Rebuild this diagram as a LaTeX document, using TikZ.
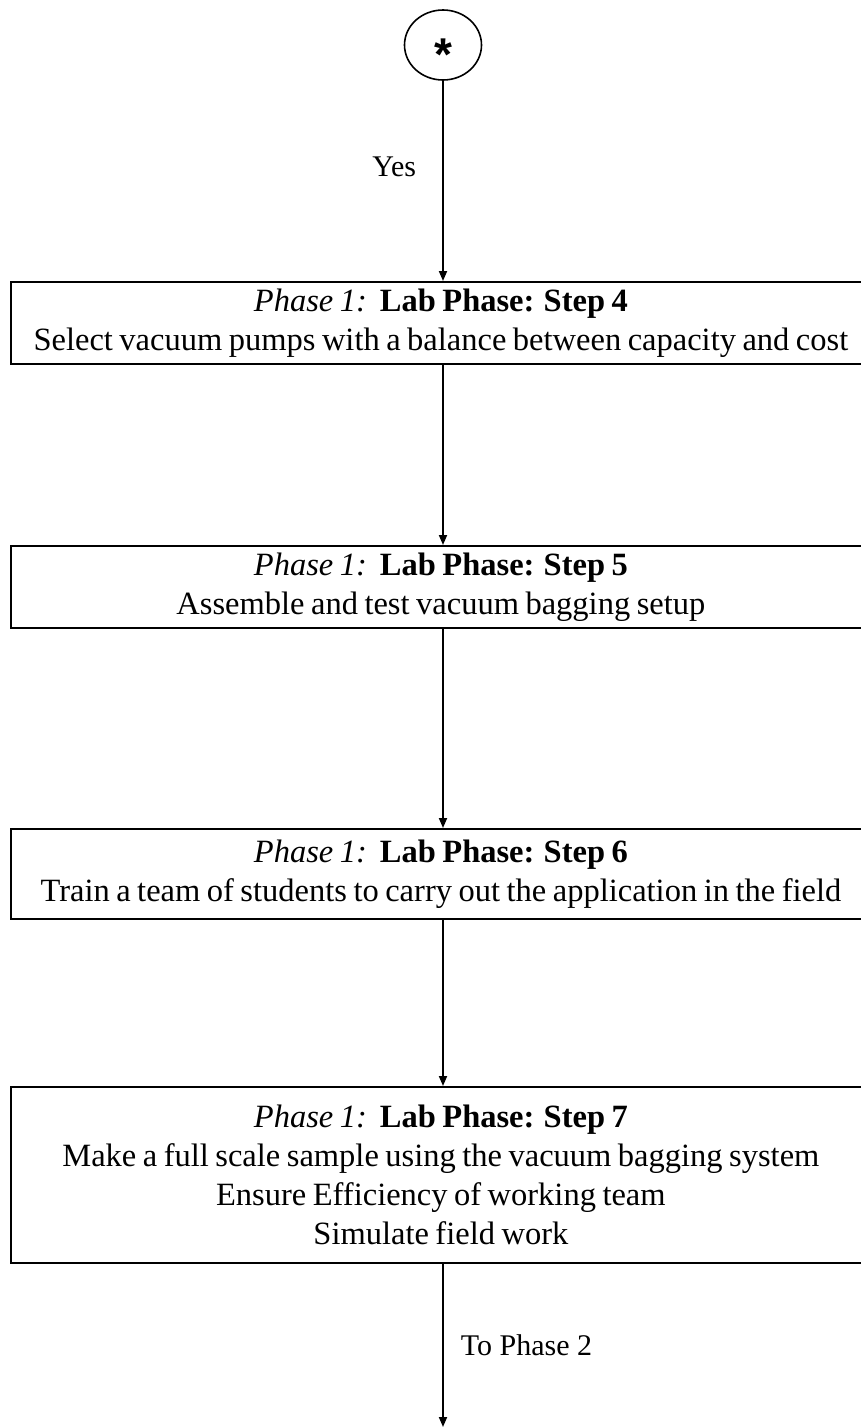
\documentclass[tikz,border=0pt]{standalone}
\usepackage{fontspec}
\setmainfont{Liberation Serif}
\newfontfamily\symfont{Liberation Sans}
\usetikzlibrary{arrows.meta,shapes.geometric}
\newcommand\boxfont{\fontsize{32.5}{39}\selectfont
  \spaceskip=0.2em plus 0.05em minus 0.05em\relax}
\begin{document}
\begin{tikzpicture}[x=1pt,y=-1pt,
  stepbox/.style={draw, line width=1.8pt, rectangle, anchor=north west,
    minimum width=860pt, align=center, inner sep=0pt, font=\boxfont},
  flow/.style={line width=1.8pt, -{Triangle[length=10pt,width=8pt]}},
  lbl/.style={font=\fontsize{30}{39}\selectfont, inner sep=0pt}]
\useasboundingbox (0,0) rectangle (861,1428);

% start connector
\node[draw, ellipse, line width=1.6pt, minimum width=77pt, minimum height=70pt,
  inner sep=0pt] (start) at (443,45) {};
\node[inner sep=0pt, font=\symfont\bfseries\fontsize{46}{46}\selectfont]
  (star) at ([yshift=-10pt]start.center) {*};

% phase 1 steps
\node[stepbox, minimum height=82pt] (s4) at (10,281)
  {\textit{Phase 1:}\ \ \textbf{Lab Phase: Step 4}\\
   Select vacuum pumps with a balance between capacity and cost};
\node[stepbox, minimum height=82pt] (s5) at (10,545)
  {\textit{Phase 1:}\ \ \textbf{Lab Phase: Step 5}\\
   Assemble and test vacuum bagging setup};
\node[stepbox, minimum height=90pt] (s6) at (10,828)
  {\textit{Phase 1:}\ \ \textbf{Lab Phase: Step 6}\\
   Train a team of students to carry out the application in the field};
\node[stepbox, minimum height=176pt] (s7) at (10,1086)
  {\textit{Phase 1:}\ \ \textbf{Lab Phase: Step 7}\\
   Make a full scale sample using the vacuum bagging system\\
   Ensure Efficiency of working team\\
   Simulate field work};

\coordinate (phase2) at (443,1427);

% connectors
\draw[flow] (start.south) -- (s4.north -| start.south)
  node[lbl, pos=0.43, anchor=east, xshift=-26pt] {Yes};
\draw[flow] (s4.south -| start.south) -- (s5.north -| start.south);
\draw[flow] (s5.south -| start.south) -- (s6.north -| start.south);
\draw[flow] (s6.south -| start.south) -- (s7.north -| start.south);
\draw[flow] (s7.south -| start.south) -- (phase2)
  node[lbl, pos=0.5, anchor=west, xshift=17pt] {To Phase 2};
\end{tikzpicture}
\end{document}
